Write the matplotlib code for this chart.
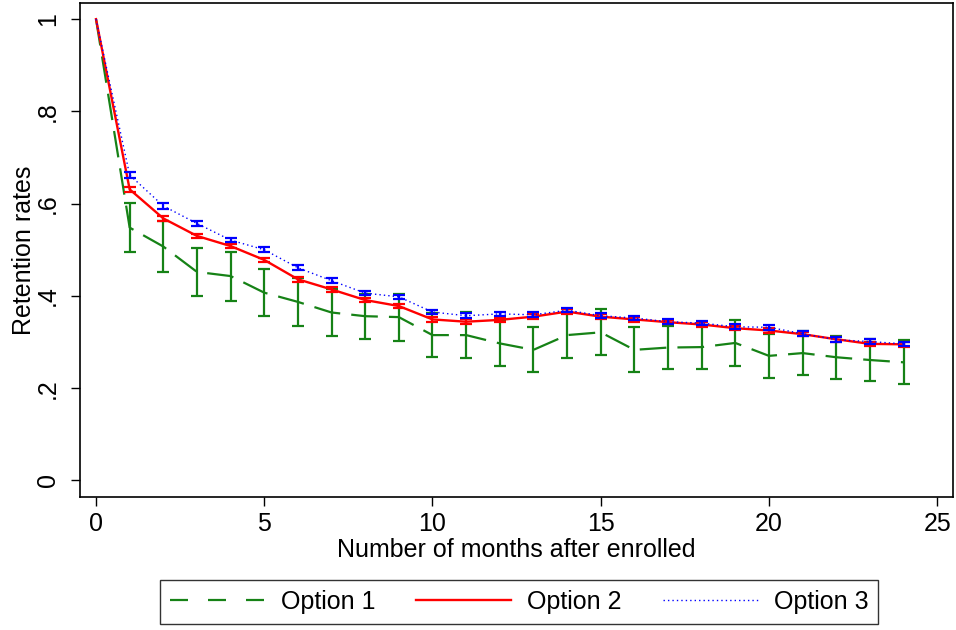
import matplotlib
matplotlib.use("Agg")
import matplotlib.pyplot as plt
from matplotlib.lines import Line2D

plt.rcParams["font.family"] = ["Liberation Sans", "DejaVu Sans"]

months = [0, 1, 2, 3, 4, 5, 6, 7, 8, 9, 10, 11, 12,
          13, 14, 15, 16, 17, 18, 19, 20, 21, 22, 23, 24]

# Option 1: mean and half-width of the CI
opt1_mean = [1.0, 0.548, 0.507, 0.452, 0.443, 0.407, 0.387, 0.364, 0.356,
             0.354, 0.315, 0.315, 0.297, 0.283, 0.315, 0.321, 0.283, 0.288,
             0.289, 0.298, 0.270, 0.276, 0.267, 0.261, 0.256]
opt1_err = [0.0, 0.053, 0.055, 0.052, 0.053, 0.051, 0.052, 0.052, 0.049,
            0.051, 0.048, 0.050, 0.049, 0.049, 0.050, 0.050, 0.049, 0.047,
            0.048, 0.049, 0.047, 0.047, 0.047, 0.046, 0.048]

opt2_mean = [1.0, 0.631, 0.568, 0.530, 0.508, 0.478, 0.436, 0.414, 0.391,
             0.378, 0.349, 0.344, 0.348, 0.355, 0.366, 0.355, 0.349, 0.343,
             0.338, 0.330, 0.325, 0.317, 0.306, 0.296, 0.295]
opt2_err = [0.0, 0.005, 0.005, 0.005, 0.005, 0.005, 0.005, 0.005, 0.005,
            0.005, 0.005, 0.005, 0.005, 0.005, 0.005, 0.005, 0.005, 0.005,
            0.005, 0.005, 0.005, 0.005, 0.005, 0.005, 0.005]

opt3_mean = [1.0, 0.662, 0.595, 0.557, 0.521, 0.500, 0.461, 0.433, 0.406,
             0.398, 0.365, 0.357, 0.361, 0.359, 0.369, 0.357, 0.352, 0.344,
             0.341, 0.333, 0.332, 0.318, 0.305, 0.301, 0.296]
opt3_err = [0.0, 0.006, 0.006, 0.006, 0.005, 0.005, 0.005, 0.005, 0.005,
            0.005, 0.005, 0.005, 0.005, 0.005, 0.005, 0.005, 0.005, 0.005,
            0.005, 0.005, 0.005, 0.005, 0.005, 0.005, 0.005]

labels = ["Option 1", "Option 2", "Option 3"]
yticks = [0, 0.2, 0.4, 0.6, 0.8, 1.0]
ytick_labels = ["0", ".2", ".4", ".6", ".8", "1"]
xticks = [0, 5, 10, 15, 20, 25]

GREEN = "#168216"
RED = "#ff0000"
BLUE = "#0000ff"
FS = 18

fig = plt.figure(figsize=(9.56, 6.3), dpi=100)
ax = fig.add_axes([80 / 956, 1 - 497 / 630, 873 / 956, 494 / 630])

series = [
    (opt1_mean, opt1_err, GREEN, dict(linestyle=(0, (12, 5)), lw=1.6)),
    (opt2_mean, opt2_err, RED, dict(linestyle="-", lw=1.7)),
    (opt3_mean, opt3_err, BLUE, dict(linestyle=(0, (1, 2.2)), lw=1.0)),
]

for mean, err, color, style in series:
    ax.errorbar(months[1:], mean[1:], yerr=err[1:], fmt="none",
                ecolor=color, elinewidth=1.6, capsize=4.6, capthick=1.6)
    ax.plot(months, mean, color=color, **style)

ax.set_xlim(-0.476, 25.47)
ax.set_ylim(-0.036, 1.035)
ax.set_xticks(xticks)
ax.set_yticks(yticks)
ax.set_yticklabels(ytick_labels, rotation=90, va="center")
ax.tick_params(axis="both", direction="out", length=6.5, width=1.0,
               labelsize=FS)
ax.tick_params(axis="y", pad=8)
ax.tick_params(axis="x", pad=4)
ax.set_xlabel("Number of months after enrolled", fontsize=FS, labelpad=2)
ax.set_ylabel("Retention rates", fontsize=FS, labelpad=0)
for sp in ax.spines.values():
    sp.set_linewidth(1.2)

# legend keys (Stata draws its own dash pattern for the keys)
keys = [
    Line2D([], [], color=GREEN, lw=1.6, linestyle=(0, (8.1, 9))),
    Line2D([], [], color=RED, lw=1.7),
    Line2D([], [], color=BLUE, lw=1.0, linestyle=(0, (1, 2.2))),
]
leg = fig.legend(handles=keys, labels=labels, ncol=3, loc="center",
                 bbox_to_anchor=(519 / 956, 1 - 602 / 630), fontsize=FS,
                 frameon=True, fancybox=False, edgecolor="black",
                 handlelength=3.8, handletextpad=0.64, columnspacing=1.64,
                 borderpad=0.4)
leg.get_frame().set_linewidth(1.0)

fig.savefig("out.png", dpi=100)
